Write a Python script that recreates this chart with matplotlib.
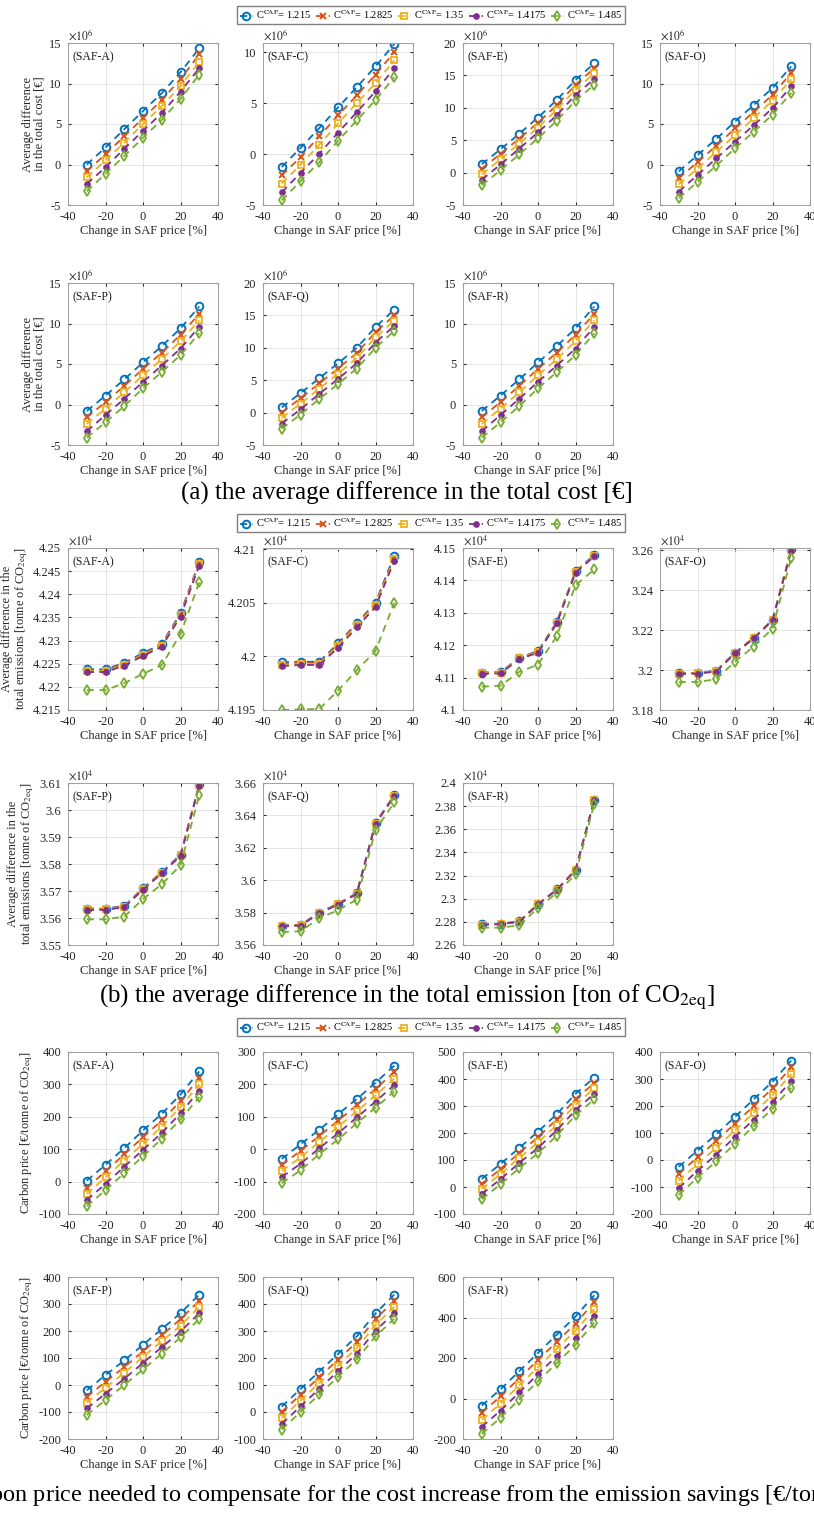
import matplotlib
matplotlib.use("Agg")
import matplotlib.pyplot as plt
from matplotlib.ticker import FuncFormatter

plt.rcParams['font.family'] = ['Liberation Serif', 'DejaVu Serif']
plt.rcParams['mathtext.fontset'] = 'stix'
plt.rcParams['axes.unicode_minus'] = False

W, H = 814, 1514

saf_price = [-30, -20, -10, 0, 10, 20, 30]
caf_values = ['1.215', '1.2825', '1.35', '1.4175', '1.485']
panel_names = ['SAF-A', 'SAF-C', 'SAF-E', 'SAF-O', 'SAF-P', 'SAF-Q', 'SAF-R']

# (a) average difference in the total cost, x1e6 EUR
cost_a = [[0.0, 2.1, 4.35, 6.6, 8.8, 11.4, 14.35],
          [-0.8, 1.25, 3.5, 5.7, 7.95, 10.55, 13.6],
          [-1.6, 0.5, 2.7, 5.0, 7.2, 9.7, 12.7],
          [-2.4, -0.35, 1.95, 4.15, 6.35, 9.0, 11.9],
          [-3.3, -1.15, 1.05, 3.3, 5.5, 8.1, 11.1]]
cost_c = [[-1.27, 0.6, 2.55, 4.57, 6.57, 8.6, 10.8],
          [-2.1, -0.3, 1.73, 3.8, 5.75, 7.8, 10.0],
          [-2.9, -1.05, 0.9, 3.0, 5.0, 6.95, 9.2],
          [-3.75, -1.85, 0.03, 2.1, 4.1, 6.15, 8.4],
          [-4.55, -2.65, -0.8, 1.3, 3.3, 5.3, 7.55]]
cost_e = [[1.3, 3.6, 6.0, 8.5, 11.2, 14.3, 16.85],
          [0.6, 2.9, 5.25, 7.7, 10.4, 13.55, 16.1],
          [-0.25, 2.05, 4.5, 6.95, 9.7, 12.8, 15.3],
          [-1.1, 1.25, 3.7, 6.2, 8.85, 12.0, 14.45],
          [-1.95, 0.35, 2.8, 5.3, 8.0, 11.1, 13.55]]
cost_o = [[-0.85, 1.15, 3.15, 5.3, 7.35, 9.45, 12.1],
          [-1.7, 0.3, 2.3, 4.45, 6.5, 8.6, 11.3],
          [-2.45, -0.5, 1.55, 3.6, 5.7, 7.9, 10.5],
          [-3.35, -1.3, 0.75, 2.8, 4.85, 6.95, 9.65],
          [-4.15, -2.15, -0.15, 2.0, 4.05, 6.15, 8.85]]
cost_p = [[-0.8, 1.1, 3.1, 5.2, 7.2, 9.4, 12.1],
          [-1.6, 0.3, 2.3, 4.4, 6.4, 8.6, 11.2],
          [-2.4, -0.5, 1.5, 3.6, 5.6, 7.8, 10.4],
          [-3.3, -1.3, 0.7, 2.8, 4.8, 6.9, 9.6],
          [-4.1, -2.2, -0.2, 2.0, 4.0, 6.1, 8.8]]
cost_q = [[0.8, 3.0, 5.3, 7.6, 10.0, 13.2, 15.9],
          [0.0, 2.2, 4.5, 6.8, 9.2, 12.4, 15.0],
          [-0.8, 1.4, 3.7, 6.0, 8.4, 11.6, 14.2],
          [-1.7, 0.5, 2.9, 5.2, 7.6, 10.8, 13.4],
          [-2.5, -0.3, 2.1, 4.4, 6.8, 10.0, 12.6]]
cost_r = [[-0.8, 1.1, 3.1, 5.2, 7.2, 9.4, 12.1],
          [-1.6, 0.3, 2.3, 4.4, 6.4, 8.6, 11.2],
          [-2.4, -0.5, 1.5, 3.6, 5.6, 7.8, 10.4],
          [-3.3, -1.3, 0.7, 2.8, 4.8, 6.9, 9.6],
          [-4.1, -2.2, -0.2, 2.0, 4.0, 6.1, 8.8]]

# (b) average difference in the total emissions, x1e4 tonne CO2eq
emis_a = [[4.2238, 4.2238, 4.2252, 4.2273, 4.2293, 4.2359, 4.2470],
          [4.2236, 4.2236, 4.2250, 4.2271, 4.2291, 4.2357, 4.2467],
          [4.2234, 4.2234, 4.2248, 4.2269, 4.2289, 4.2355, 4.2465],
          [4.2232, 4.2232, 4.2246, 4.2267, 4.2287, 4.2352, 4.2462],
          [4.2193, 4.2193, 4.2208, 4.2228, 4.2247, 4.2314, 4.2426]]
emis_c = [[4.19944, 4.1995, 4.1995, 4.2012, 4.2031, 4.2050, 4.2094],
          [4.1993, 4.1994, 4.1994, 4.2011, 4.2030, 4.2049, 4.2092],
          [4.1992, 4.1993, 4.1993, 4.2010, 4.2029, 4.2048, 4.2091],
          [4.1991, 4.1992, 4.1992, 4.2008, 4.2027, 4.2046, 4.2089],
          [4.1950, 4.19505, 4.1951, 4.1968, 4.1987, 4.2005, 4.2050]]
emis_e = [[4.1115, 4.1117, 4.1161, 4.1182, 4.1272, 4.1428, 4.1479],
          [4.1114, 4.1116, 4.1160, 4.1180, 4.1270, 4.1427, 4.1477],
          [4.1113, 4.1115, 4.1159, 4.1179, 4.1269, 4.1426, 4.1476],
          [4.1112, 4.1113, 4.1157, 4.1177, 4.1267, 4.1424, 4.1474],
          [4.1072, 4.1075, 4.1118, 4.1140, 4.1228, 4.1385, 4.1434]]
emis_o = [[3.1984, 3.1986, 3.1997, 3.2087, 3.2161, 3.2251, 3.2605],
          [3.1983, 3.1985, 3.1995, 3.2086, 3.2160, 3.2250, 3.2601],
          [3.1982, 3.1984, 3.1994, 3.2085, 3.2159, 3.2249, 3.2599],
          [3.1981, 3.1982, 3.1992, 3.2083, 3.2158, 3.2248, 3.2596],
          [3.1940, 3.1940, 3.1954, 3.2042, 3.2117, 3.2207, 3.2560]]
emis_p = [[3.5635, 3.5635, 3.5645, 3.5710, 3.5770, 3.5835, 3.6095],
          [3.5633, 3.5633, 3.5643, 3.5708, 3.5768, 3.5833, 3.6093],
          [3.5632, 3.5632, 3.5642, 3.5707, 3.5767, 3.5832, 3.6092],
          [3.5630, 3.5630, 3.5640, 3.5705, 3.5765, 3.5830, 3.6090],
          [3.5595, 3.5595, 3.5605, 3.5670, 3.5725, 3.5795, 3.6055]]
emis_q = [[3.5720, 3.5725, 3.5800, 3.5855, 3.5920, 3.6355, 3.6525],
          [3.5718, 3.5723, 3.5798, 3.5853, 3.5918, 3.6352, 3.6522],
          [3.5717, 3.5722, 3.5797, 3.5852, 3.5917, 3.6350, 3.6520],
          [3.5715, 3.5720, 3.5795, 3.5850, 3.5915, 3.6348, 3.6518],
          [3.5680, 3.5685, 3.5765, 3.5815, 3.5880, 3.6310, 3.6480]]
emis_r = [[2.2780, 2.2785, 2.2805, 2.2955, 2.3080, 2.3250, 2.3855],
          [2.2778, 2.2783, 2.2803, 2.2953, 2.3078, 2.3248, 2.3853],
          [2.2777, 2.2782, 2.2802, 2.2952, 2.3077, 2.3247, 2.3852],
          [2.2775, 2.2780, 2.2800, 2.2950, 2.3075, 2.3245, 2.3850],
          [2.2750, 2.2750, 2.2770, 2.2920, 2.3050, 2.3210, 2.3820]]

# (c) carbon price, EUR / tonne CO2eq
carb_a = [[3, 52, 103, 158, 209, 269, 340],
          [-20, 32, 84, 137, 189, 248, 320],
          [-38, 13, 65, 116, 170, 230, 300],
          [-57, -7, 46, 98, 150, 211, 281],
          [-76, -26, 26, 78, 132, 192, 261]]
carb_c = [[-30, 15, 60, 108, 155, 205, 258],
          [-49, -5, 41, 88, 136, 186, 238],
          [-67, -25, 22, 69, 117, 166, 218],
          [-86, -45, 3, 49, 98, 147, 198],
          [-105, -65, -15, 30, 80, 128, 178]]
carb_e = [[30, 85, 145, 205, 270, 345, 405],
          [11, 66, 126, 185, 250, 325, 385],
          [-8, 48, 108, 165, 230, 305, 365],
          [-26, 29, 89, 145, 210, 285, 345],
          [-45, 10, 70, 125, 190, 265, 325]]
carb_o = [[-25, 35, 95, 160, 225, 290, 368],
          [-51, 10, 70, 135, 200, 265, 343],
          [-77, -15, 45, 110, 175, 240, 318],
          [-104, -40, 20, 85, 150, 215, 293],
          [-130, -65, -5, 60, 125, 190, 268]]
carb_p = [[-20, 37, 91, 149, 207, 266, 335],
          [-44, 12, 66, 125, 184, 244, 312],
          [-65, -10, 45, 104, 162, 220, 290],
          [-87, -32, 23, 82, 140, 198, 266],
          [-111, -56, 0, 58, 116, 176, 245]]
carb_q = [[20, 85, 150, 215, 280, 365, 435],
          [0, 64, 129, 194, 259, 344, 412],
          [-22, 42, 107, 172, 237, 322, 390],
          [-44, 21, 86, 151, 216, 301, 367],
          [-65, 0, 65, 130, 195, 280, 345]]
carb_r = [[-35, 45, 135, 225, 315, 405, 510],
          [-70, 10, 100, 190, 280, 370, 476],
          [-105, -25, 65, 155, 245, 335, 442],
          [-140, -60, 30, 120, 210, 300, 408],
          [-175, -95, -5, 85, 175, 265, 375]]

cost_ylims = [(-5, 15), (-5, 10.9), (-5, 20), (-5, 15), (-5, 15), (-5, 20), (-5, 15)]
emis_ylims = [(4.215, 4.25), (4.195, 4.2101), (4.1, 4.15), (3.18, 3.261),
              (3.55, 3.61), (3.56, 3.66), (2.26, 2.40)]
emis_steps = [0.005, 0.005, 0.01, 0.02, 0.01, 0.02, 0.02]
carb_ylims = [(-100, 400), (-200, 300), (-100, 500), (-200, 400),
              (-200, 400), (-100, 500), (-200, 600)]

colors = ['#0072BD', '#D95319', '#EDB120', '#7E2F8E', '#77AC30']
styles = [dict(marker='o', mfc='none', ms=5.5, mew=1.4),
          dict(marker='x', ms=4.5, mew=1.4),
          dict(marker='s', mfc='none', ms=5, mew=1.3),
          dict(marker='o', ms=3.8, mew=1.0),
          dict(marker='d', mfc='none', ms=5.5, mew=1.3)]

col_left = [68, 263, 463, 660]
ax_w, ax_h = 150, 162


def px_rect(left, top):
    return [left / W, 1 - (top + ax_h) / H, ax_w / W, ax_h / H]


def gfmt(v, pos):
    s = ('%.4f' % v).rstrip('0').rstrip('.')
    return '0' if s == '-0' else s


fig = plt.figure(figsize=(W / 100, H / 100), dpi=100)

sections = [
    ([cost_a, cost_c, cost_e, cost_o, cost_p, cost_q, cost_r], cost_ylims, None,
     r'$\times10^6$', 'Average difference\nin the total cost [€]', (43, 283), 15,
     '(a) the average difference in the total cost [€]', 493, 18),
    ([emis_a, emis_c, emis_e, emis_o, emis_p, emis_q, emis_r], emis_ylims, emis_steps,
     r'$\times10^4$', 'Average difference in the\ntotal emissions [tonne of CO$_{2\mathrm{eq}}$]',
     (548, 783), 523,
     '(b) the average difference in the total emission [ton of CO$_{2\mathrm{eq}}$]', 997, 18),
    ([carb_a, carb_c, carb_e, carb_o, carb_p, carb_q, carb_r], carb_ylims, None,
     None, 'Carbon price [€/tonne of CO$_{2\mathrm{eq}}$]', (1052, 1277), 1027,
     '(c) the carbon price needed to compensate for the cost increase from the '
     'emission savings [€/ton of CO$_{2\mathrm{eq}}$]', 1497, 17.4),
]

for data, ylims, steps, mult, ylab, tops, leg_y, caption, cap_y, cap_fs in sections:
    handles = None
    for k, series in enumerate(data):
        row, col = divmod(k, 4)
        ax = fig.add_axes(px_rect(col_left[col], tops[row]))
        lines = []
        for s, vals in enumerate(series):
            ln, = ax.plot(saf_price, vals, '--', color=colors[s], lw=1.3,
                          dashes=(4, 3), mec=colors[s], mfc=styles[s].get('mfc', colors[s]),
                          **{kk: vv for kk, vv in styles[s].items() if kk != 'mfc'},
                          label=r'C$^{\mathrm{CAF}}$= ' + caf_values[s])
            lines.append(ln)
        handles = lines
        ax.set_xlim(-40, 40)
        ax.set_xticks([-40, -20, 0, 20, 40])
        lo, hi = ylims[k]
        ax.set_ylim(lo, hi)
        if steps is not None:
            n = int(round((hi - lo) / steps[k] + 1e-6))
            ax.set_yticks([lo + i * steps[k] for i in range(n + 1)])
        elif k == 1 and mult is not None:
            ax.set_yticks([-5, 0, 5, 10])
        ax.yaxis.set_major_formatter(FuncFormatter(gfmt))
        ax.grid(True, color='#e4e4e4', lw=0.7)
        ax.set_axisbelow(True)
        ax.tick_params(direction='in', length=2.5, labelsize=9, colors='#262626',
                       top=True, right=True)
        ax.tick_params(axis='y', pad=5)
        ax.tick_params(axis='x', pad=4)
        for sp in ax.spines.values():
            sp.set_color('#a0a0a0')
            sp.set_linewidth(0.7)
        ax.set_xlabel('Change in SAF price [%]', fontsize=9, color='#262626', labelpad=2)
        ax.text(0.03, 0.95, '(' + panel_names[k] + ')', transform=ax.transAxes,
                fontsize=8.5, va='top', ha='left', color='#1a1a1a')
        if mult is not None:
            ax.text(0.0, 1.005, mult, transform=ax.transAxes, fontsize=8.5,
                    va='bottom', ha='left', color='#262626')
        if col == 0:
            ax.set_ylabel(ylab, fontsize=9, color='#262626', labelpad=2,
                          linespacing=1.0)
    fig.legend(handles=handles, loc='center', bbox_to_anchor=(431 / W, 1 - leg_y / H),
               ncol=5, fontsize=7.5, frameon=True, fancybox=False, edgecolor='#808080',
               handlelength=1.3, handletextpad=0.3, columnspacing=0.45,
               borderpad=0.25, framealpha=1)
    fig.text(0.5, 1 - cap_y / H, caption, ha='center', va='center', fontsize=cap_fs)

fig.savefig('out.png', dpi=100)
